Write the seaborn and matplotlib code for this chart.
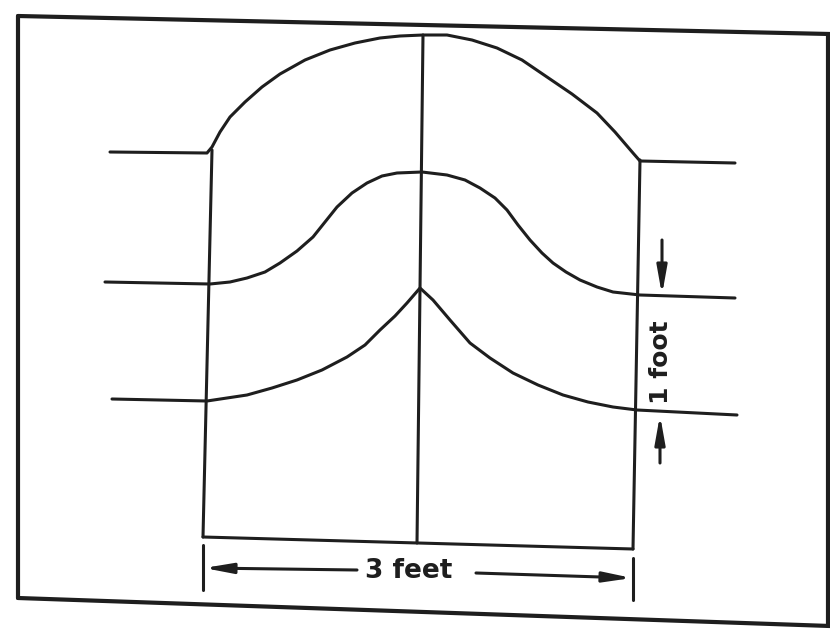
import matplotlib
matplotlib.use("Agg")
import matplotlib.pyplot as plt
import seaborn as sns

sns.set_theme(style="white")
plt.rcParams['font.family'] = ['DejaVu Sans']

# profiles (pixel coords, y grows downward)
arch_x = [110, 207, 212, 220, 230, 245, 262, 280, 305, 330, 355, 380, 400, 423,
          447, 472, 497, 522, 547, 572, 597, 615, 633, 640, 735]
arch_y = [152, 153, 147, 132, 117, 102, 87, 74, 60, 50, 43, 38, 36, 35,
          35, 40, 48, 60, 77, 94, 113, 132, 153, 161, 163]

bell_x = [105, 210, 230, 247, 265, 280, 297, 313, 325, 337, 352, 367, 382, 397,
          422, 447, 465, 480, 495, 507, 518, 530, 542, 553, 566, 580, 597, 613,
          640, 735]
bell_y = [282, 284, 282, 278, 272, 263, 251, 237, 222, 207, 193, 183, 176, 173,
          172, 175, 180, 188, 198, 210, 225, 240, 253, 263, 272, 280, 287, 292,
          295, 298]

cusp_x = [112, 207, 227, 247, 272, 297, 322, 347, 365, 380, 395, 407, 420, 433,
          450, 470, 490, 513, 538, 563, 588, 613, 637, 737]
cusp_y = [399, 401, 398, 395, 388, 380, 370, 357, 345, 330, 316, 303, 288, 300,
          320, 343, 358, 373, 385, 395, 402, 407, 410, 415]

width_label = "3 feet"
height_label = "1 foot"

fig = plt.figure(figsize=(8.3, 6.36), dpi=100)
ax = fig.add_axes([0, 0, 1, 1])
ax.set_xlim(0, 830)
ax.set_ylim(636, 0)
ax.axis("off")

ink = "#1e1e1e"
lw = 2.2

for xs, ys in [(arch_x, arch_y), (bell_x, bell_y), (cusp_x, cusp_y)]:
    sns.lineplot(x=xs, y=ys, sort=False, estimator=None, color=ink, lw=lw, ax=ax)

# border of the sheet
ax.plot([18, 830], [16, 34], color=ink, lw=3)
ax.plot([18, 18], [16, 598], color=ink, lw=3)
ax.plot([18, 830], [598, 626], color=ink, lw=3)
ax.plot([828, 828], [34, 626], color=ink, lw=3)

# guide lines
ax.plot([212, 203], [150, 537], color=ink, lw=lw)
ax.plot([423, 417], [35, 543], color=ink, lw=lw)
ax.plot([640, 633], [160, 549], color=ink, lw=lw)
ax.plot([203, 633], [537, 549], color=ink, lw=lw)

# width dimension
ax.plot([203, 203], [545, 590], color=ink, lw=lw)
ax.plot([633, 633], [558, 600], color=ink, lw=lw)
head = dict(arrowstyle="-|>,head_length=1.4,head_width=0.25", color=ink,
            lw=lw, shrinkA=0, shrinkB=0)
ax.annotate("", xy=(204, 568), xytext=(357, 570), arrowprops=head)
ax.annotate("", xy=(632, 578), xytext=(476, 573), arrowprops=head)
ax.text(409, 571, width_label, ha="center", va="center", fontsize=19,
        fontweight="bold", color=ink)

# height dimension
ax.annotate("", xy=(662, 295), xytext=(662, 240), arrowprops=head)
ax.annotate("", xy=(660, 415), xytext=(660, 463), arrowprops=head)
ax.text(661, 362, height_label, ha="center", va="center", rotation=90,
        fontsize=18, fontweight="bold", color=ink)

fig.savefig("out.png", dpi=100, facecolor="white")
